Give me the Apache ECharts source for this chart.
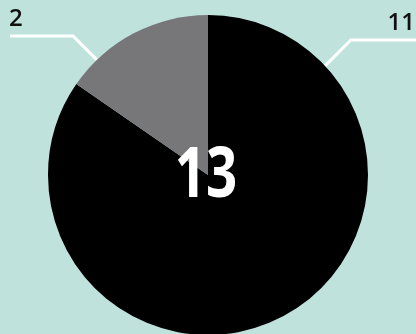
<!DOCTYPE html>
<html>
<head>
<meta charset="utf-8">
<script src="https://cdn.jsdelivr.net/npm/echarts@6/dist/echarts.min.js"></script>
<style>
  html, body { margin: 0; padding: 0; background: #bfe3dc; }
  #chart { width: 416px; height: 334px; }
</style>
</head>
<body>
<div id="chart"></div>
<script>
// Slice data
const sliceNames = ['Part A', 'Part B'];
const sliceValues = [11, 2];
const sliceColors = ['#000000', '#77777a'];

const total = sliceValues.reduce((a, b) => a + b, 0);

// Pie geometry
const CX = 208, CY = 175, R = 160;
const DEG = Math.PI / 180;
// leader line layout for left / right labels
const leader = {
  left:  { angle: 134, lineY: 36, endX: 10, textX: 9, align: 'left' },
  right: { angle: 43,  lineY: 40, endX: 420, textX: 415, align: 'right' }
};

const chart = echarts.init(document.getElementById('chart'), null, { renderer: 'canvas' });

chart.setOption({
  backgroundColor: '#bfe3dc',
  animation: false,
  series: [{
    type: 'pie',
    center: [CX, CY],
    radius: R,
    startAngle: 90,
    clockwise: true,
    silent: true,
    data: sliceNames.map((n, i) => ({
      name: n,
      value: sliceValues[i],
      itemStyle: { color: sliceColors[i] }
    })),
    label: {
      show: true,
      position: 'outside',
      formatter: '{c}',
      fontFamily: 'Open Sans',
      fontSize: 24,
      fontWeight: 600,
      color: '#111111',
      distanceToLabelLine: 0
    },
    labelLine: {
      show: true,
      length: 20,
      length2: 40,
      lineStyle: { color: '#ffffff', width: 3, cap: 'butt', join: 'miter' }
    },
    labelLayout: function (p) {
      const isLeft = p.labelLinePoints[0][0] < CX;
      const s = isLeft ? leader.left : leader.right;
      const a = s.angle * DEG;
      const x0 = CX + R * Math.cos(a);
      const y0 = CY - R * Math.sin(a);
      const dy = y0 - s.lineY;
      const x1 = isLeft ? x0 - dy : x0 + dy;
      return {
        x: s.textX,
        y: s.lineY - 17,
        align: s.align,
        verticalAlign: 'middle',
        labelLinePoints: [[x0, y0], [x1, s.lineY], [s.endX, s.lineY]]
      };
    }
  }],
  graphic: [{
    type: 'text',
    x: 206,
    y: 177,
    scaleX: 0.78,
    z: 100,
    style: {
      text: String(total),
      fontFamily: 'Open Sans',
      fontWeight: 'bold',
      fontSize: 70,
      fill: '#ffffff',
      align: 'center',
      verticalAlign: 'middle'
    }
  }]
});
</script>
</body>
</html>
